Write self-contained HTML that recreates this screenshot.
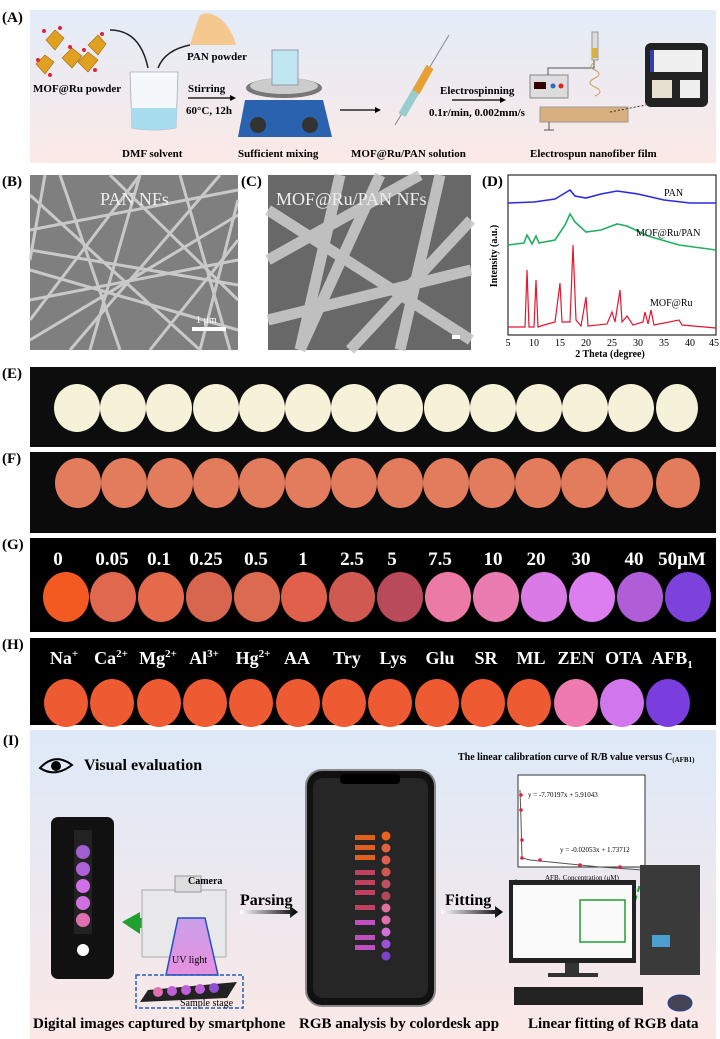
<!DOCTYPE html>
<html><head><meta charset="utf-8"><style>
html,body{margin:0;padding:0;background:#fff;}
body{width:720px;height:1039px;overflow:hidden;position:relative;font-family:"Liberation Serif",serif;}
svg{position:absolute;left:0;top:0;}
.b{font-weight:bold;}
</style></head><body>
<svg width="720" height="1039" viewBox="0 0 720 1039" xmlns="http://www.w3.org/2000/svg" font-family="Liberation Serif, serif" font-weight="bold">
<defs>
<linearGradient id="ga" x1="0" y1="0" x2="0" y2="1"><stop offset="0" stop-color="#e3ecf8"/><stop offset="1" stop-color="#fbe9e6"/></linearGradient>
<linearGradient id="gi" x1="0" y1="0" x2="0" y2="1"><stop offset="0" stop-color="#dde9f8"/><stop offset="1" stop-color="#fbe8e6"/></linearGradient>
<linearGradient id="arr" x1="0" y1="0" x2="1" y2="0"><stop offset="0" stop-color="#fff"/><stop offset="1" stop-color="#000"/></linearGradient>
<linearGradient id="uv" x1="0" y1="0" x2="0" y2="1"><stop offset="0" stop-color="#c9a0e8"/><stop offset="1" stop-color="#e890e0"/></linearGradient>
</defs>

<!-- Panel A -->
<text x="2" y="22" font-size="15">(A)</text>
<rect x="30" y="10" width="686" height="153" fill="url(#ga)"/>
<g fill="#e0a020" stroke="#a06a10" stroke-width="0.6">
<polygon points="55,30 64,38 55,50 46,40"/><polygon points="98,35 106,44 98,55 88,45"/>
<polygon points="72,48 82,56 72,68 62,58"/><polygon points="88,52 98,60 88,72 78,62"/>
<polygon points="45,55 54,62 45,74 36,64"/>
</g>
<g fill="#e02040"><circle cx="44" cy="31" r="2"/><circle cx="60" cy="28" r="2"/><circle cx="102" cy="34" r="2"/><circle cx="70" cy="47" r="2"/><circle cx="38" cy="60" r="2"/><circle cx="50" cy="75" r="2"/><circle cx="95" cy="70" r="2"/><circle cx="84" cy="50" r="2"/></g>
<path d="M200,15 Q210,10 222,20 Q232,30 236,45 L190,45 Q195,28 200,15Z" fill="#f5c890"/>
<path d="M110,30 Q140,30 148,68" fill="none" stroke="#222" stroke-width="1.5"/>
<path d="M190,45 Q165,50 158,68" fill="none" stroke="#222" stroke-width="1.5"/>
<text x="187" y="60" font-size="11">PAN powder</text>
<text x="33" y="92" font-size="11">MOF@Ru powder</text>
<path d="M130,72 L178,72 L176,128 Q154,132 132,128Z" fill="#f4f8fb" stroke="#aab" stroke-width="0.8"/>
<path d="M131,108 L177,108 L176,128 Q154,132 132,128Z" fill="#a8dcef"/>
<text x="188" y="92" font-size="11">Stirring</text>
<line x1="188" y1="98" x2="230" y2="98" stroke="#000" stroke-width="1.3"/><polygon points="230,95 236,98 230,101"/>
<text x="186" y="114" font-size="11">60°C, 12h</text>
<ellipse cx="284" cy="88" rx="38" ry="10" fill="#777"/><ellipse cx="284" cy="86" rx="34" ry="8" fill="#ccc"/>
<rect x="272" y="50" width="26" height="35" fill="#bfe6f2" stroke="#889" stroke-width="0.8"/>
<path d="M245,100 L323,100 L332,137 L238,137Z" fill="#2a62b0"/>
<circle cx="258" cy="125" r="8" fill="#333"/><circle cx="310" cy="125" r="8" fill="#333"/>
<text x="122" y="157" font-size="11">DMF solvent</text>
<text x="238" y="157" font-size="11">Sufficient mixing</text>
<line x1="340" y1="110" x2="375" y2="110" stroke="#000" stroke-width="1.3"/><polygon points="375,107 381,110 375,113"/>
<line x1="395" y1="125" x2="449" y2="35" stroke="#889" stroke-width="1"/>
<line x1="402" y1="115" x2="430" y2="67" stroke="#9cc" stroke-width="8"/>
<line x1="416" y1="92" x2="430" y2="67" stroke="#e8a030" stroke-width="8"/>
<text x="351" y="157" font-size="11">MOF@Ru/PAN solution</text>
<text x="440" y="94" font-size="11">Electrospinning</text>
<line x1="452" y1="100" x2="500" y2="100" stroke="#000" stroke-width="1.3"/><polygon points="500,97 506,100 500,103"/>
<text x="429" y="116" font-size="11">0.1r/min, 0.002mm/s</text>
<rect x="530" y="75" width="38" height="23" fill="#ddd" stroke="#888"/><rect x="534" y="82" width="12" height="7" fill="#300"/>
<circle cx="553" cy="86" r="2.5" fill="#36c"/><circle cx="561" cy="86" r="2.5" fill="#d22"/>
<path d="M548,75 L548,68 L594,68 L594,60" fill="none" stroke="#555"/>
<rect x="592" y="32" width="6" height="28" fill="#ddd" stroke="#999"/><rect x="592" y="48" width="6" height="10" fill="#d8b040"/>
<path d="M595,62 q-8,5 0,8 q8,4 0,8 q-10,5 0,9 q10,5 0,9" fill="none" stroke="#c8a060" stroke-width="1"/>
<rect x="540" y="107" width="88" height="15" fill="#d8b080" stroke="#999"/>
<line x1="549" y1="122" x2="549" y2="130" stroke="#555"/><line x1="544" y1="130" x2="554" y2="130" stroke="#555"/>
<line x1="610" y1="112" x2="646" y2="105" stroke="#333" stroke-dasharray="2,2"/>
<rect x="645" y="43" width="63" height="64" rx="6" fill="#222"/>
<rect x="652" y="50" width="50" height="22" fill="#f0f0f0"/><rect x="650" y="50" width="4" height="22" fill="#3040b0"/>
<rect x="652" y="80" width="20" height="18" fill="#e8e0d0"/><rect x="680" y="80" width="20" height="18" fill="#eee"/>
<text x="530" y="157" font-size="11">Electrospun nanofiber film</text>

<!-- Panel B -->
<text x="2" y="186" font-size="15">(B)</text>
<rect x="30" y="175" width="208" height="175" fill="#7f7f7f"/>
<g stroke="#d6d6d6" stroke-width="3" opacity="0.85">
<line x1="30" y1="230" x2="238" y2="190"/><line x1="30" y1="300" x2="238" y2="260"/><line x1="60" y1="175" x2="120" y2="350"/>
<line x1="140" y1="175" x2="90" y2="350"/><line x1="30" y1="340" x2="238" y2="215"/><line x1="180" y1="175" x2="230" y2="350"/>
<line x1="30" y1="195" x2="200" y2="350"/><line x1="238" y1="300" x2="110" y2="175"/><line x1="30" y1="270" x2="238" y2="330"/>
<line x1="70" y1="350" x2="220" y2="175"/><line x1="30" y1="320" x2="140" y2="175"/><line x1="150" y1="350" x2="238" y2="240"/>
<line x1="30" y1="250" x2="238" y2="285"/><line x1="45" y1="175" x2="30" y2="260"/><line x1="200" y1="350" x2="238" y2="200"/>
</g>
<text x="100" y="205" font-size="18" fill="#eee" font-weight="normal">PAN NFs</text>
<rect x="192" y="327" width="34" height="4" fill="#fff"/><text x="196" y="323" font-size="10" fill="#fff" font-weight="normal">1 μm</text>

<!-- Panel C -->
<text x="241" y="186" font-size="15">(C)</text>
<rect x="268" y="175" width="203" height="175" fill="#686868"/>
<g stroke="#c9c9c9" stroke-width="11" opacity="0.9">
<line x1="268" y1="320" x2="471" y2="270"/><line x1="268" y1="210" x2="471" y2="340"/><line x1="300" y1="350" x2="380" y2="175"/>
<line x1="400" y1="350" x2="440" y2="175"/><line x1="340" y1="175" x2="300" y2="350"/><line x1="268" y1="260" x2="420" y2="175"/>
<line x1="471" y1="220" x2="350" y2="350"/>
</g>
<text x="276" y="205" font-size="18" fill="#eee" font-weight="normal">MOF@Ru/PAN NFs</text>
<rect x="452" y="335" width="8" height="4" fill="#fff"/>

<!-- Panel D -->
<text x="482" y="186" font-size="15">(D)</text>
<rect x="508" y="175" width="208" height="160" fill="#fff" stroke="#000" stroke-width="1"/>
<polyline fill="none" stroke="#2a2ae0" stroke-width="1.6" points="508,203 534,202 555,199 565,193 570,190 575,196 586,198 601,194 617,191 638,194 664,200 690,203 716,203"/>
<polyline fill="none" stroke="#20b060" stroke-width="1.6" points="508,245 524,243 527,235 532,244 536,236 539,243 555,240 565,225 570,214 575,222 586,232 601,230 617,224 627,226 648,236 679,245 716,250"/>
<polyline fill="none" stroke="#e01830" stroke-width="1.2" points="508,327 525,327 527,270 529,327 534,327 536,280 538,327 544,325 555,322 560,283 562,322 570,322 573,245 576,320 581,326 586,297 588,326 607,324 612,312 615,322 620,290 622,322 627,316 633,325 643,322 645,312 648,324 651,310 654,325 679,320 682,325 716,328"/>
<text x="664" y="196" font-size="10" font-weight="normal">PAN</text>
<text x="636" y="236" font-size="10" font-weight="normal">MOF@Ru/PAN</text>
<text x="650" y="306" font-size="10" font-weight="normal">MOF@Ru</text>
<text transform="translate(497,256) rotate(-90)" text-anchor="middle" font-size="10">Intensity (a.u.)</text>
<g font-size="10" font-weight="normal" text-anchor="middle">
<text x="508" y="346">5</text><text x="534" y="346">10</text><text x="560" y="346">15</text><text x="586" y="346">20</text><text x="612" y="346">25</text><text x="638" y="346">30</text><text x="664" y="346">35</text><text x="690" y="346">40</text><text x="714" y="346">45</text>
</g>
<text x="610" y="357" font-size="10" text-anchor="middle">2 Theta (degree)</text>

<!-- Panel E -->
<text x="2" y="378" font-size="15">(E)</text>
<rect x="30" y="367" width="686" height="80" fill="#0d0d0d"/>
<g fill="#f6f2da">
<ellipse cx="77" cy="408" rx="23" ry="24"/><ellipse cx="123" cy="408" rx="23" ry="24"/><ellipse cx="169" cy="408" rx="23" ry="24"/><ellipse cx="216" cy="408" rx="23" ry="24"/><ellipse cx="262" cy="408" rx="23" ry="24"/><ellipse cx="308" cy="408" rx="23" ry="24"/><ellipse cx="354" cy="408" rx="23" ry="24"/><ellipse cx="400" cy="408" rx="23" ry="24"/><ellipse cx="447" cy="408" rx="23" ry="24"/><ellipse cx="493" cy="408" rx="23" ry="24"/><ellipse cx="539" cy="408" rx="23" ry="24"/><ellipse cx="585" cy="408" rx="23" ry="24"/><ellipse cx="631" cy="408" rx="23" ry="24"/><ellipse cx="677" cy="408" rx="21" ry="24"/>
</g>

<!-- Panel F -->
<text x="2" y="463" font-size="15">(F)</text>
<rect x="30" y="452" width="686" height="81" fill="#0b0b0b"/>
<g fill="#e27c5c">
<ellipse cx="78" cy="483" rx="23" ry="25"/><ellipse cx="124" cy="483" rx="23" ry="25"/><ellipse cx="170" cy="483" rx="23" ry="25"/><ellipse cx="216" cy="483" rx="23" ry="25"/><ellipse cx="262" cy="483" rx="23" ry="25"/><ellipse cx="308" cy="483" rx="23" ry="25"/><ellipse cx="354" cy="483" rx="23" ry="25"/><ellipse cx="400" cy="483" rx="23" ry="25"/><ellipse cx="446" cy="483" rx="23" ry="25"/><ellipse cx="492" cy="483" rx="23" ry="25"/><ellipse cx="538" cy="483" rx="23" ry="25"/><ellipse cx="584" cy="483" rx="23" ry="25"/><ellipse cx="630" cy="483" rx="23" ry="25"/><ellipse cx="678" cy="483" rx="22" ry="25"/>
</g>

<!-- Panel G -->
<text x="2" y="549" font-size="15">(G)</text>
<rect x="30" y="538" width="686" height="94" fill="#000"/>
<g fill="#fff" font-size="19" text-anchor="middle">
<text x="58" y="565">0</text><text x="112" y="565">0.05</text><text x="159" y="565">0.1</text><text x="206" y="565">0.25</text><text x="256" y="565">0.5</text><text x="303" y="565">1</text><text x="352" y="565">2.5</text><text x="392" y="565">5</text><text x="440" y="565">7.5</text><text x="493" y="565">10</text><text x="536" y="565">20</text><text x="581" y="565">30</text><text x="634" y="565">40</text><text x="682" y="565">50μM</text>
</g>
<ellipse cx="66" cy="597" rx="23" ry="25" fill="#f25a22"/>
<ellipse cx="113" cy="597" rx="23" ry="25" fill="#e0684e"/>
<ellipse cx="161" cy="597" rx="23" ry="25" fill="#e56a4c"/>
<ellipse cx="209" cy="597" rx="23" ry="25" fill="#d8664e"/>
<ellipse cx="257" cy="597" rx="23" ry="25" fill="#dc6a50"/>
<ellipse cx="304" cy="597" rx="23" ry="25" fill="#e0604c"/>
<ellipse cx="352" cy="597" rx="23" ry="25" fill="#d05a52"/>
<ellipse cx="400" cy="597" rx="23" ry="25" fill="#b84a5a"/>
<ellipse cx="448" cy="597" rx="23" ry="25" fill="#ec7aa6"/>
<ellipse cx="496" cy="597" rx="23" ry="25" fill="#ea7cb2"/>
<ellipse cx="544" cy="597" rx="23" ry="25" fill="#da7ae6"/>
<ellipse cx="592" cy="597" rx="23" ry="25" fill="#dc7ef0"/>
<ellipse cx="640" cy="597" rx="23" ry="25" fill="#b05ed8"/>
<ellipse cx="688" cy="597" rx="23" ry="25" fill="#7e42dc"/>

<!-- Panel H -->
<text x="2" y="649" font-size="15">(H)</text>
<rect x="30" y="638" width="686" height="87" fill="#000"/>
<g fill="#fff" font-size="18" text-anchor="middle">
<text x="64" y="664">Na<tspan font-size="11" dy="-7">+</tspan></text>
<text x="111" y="664">Ca<tspan font-size="11" dy="-7">2+</tspan></text>
<text x="158" y="664">Mg<tspan font-size="11" dy="-7">2+</tspan></text>
<text x="204" y="664">Al<tspan font-size="11" dy="-7">3+</tspan></text>
<text x="253" y="664">Hg<tspan font-size="11" dy="-7">2+</tspan></text>
<text x="297" y="664">AA</text><text x="347" y="664">Try</text><text x="393" y="664">Lys</text><text x="440" y="664">Glu</text><text x="486" y="664">SR</text><text x="531" y="664">ML</text><text x="576" y="664">ZEN</text><text x="624" y="664">OTA</text>
<text x="672" y="664">AFB<tspan font-size="11" dy="4">1</tspan></text>
</g>
<g fill="#ee5a32">
<ellipse cx="66" cy="703" rx="22" ry="24"/><ellipse cx="112" cy="703" rx="22" ry="24"/><ellipse cx="159" cy="703" rx="22" ry="24"/><ellipse cx="205" cy="703" rx="22" ry="24"/><ellipse cx="251" cy="703" rx="22" ry="24"/><ellipse cx="298" cy="703" rx="22" ry="24"/><ellipse cx="344" cy="703" rx="22" ry="24"/><ellipse cx="390" cy="703" rx="22" ry="24"/><ellipse cx="437" cy="703" rx="22" ry="24"/><ellipse cx="483" cy="703" rx="22" ry="24"/><ellipse cx="529" cy="703" rx="22" ry="24"/>
</g>
<ellipse cx="576" cy="703" rx="22" ry="24" fill="#ee7ab0"/>
<ellipse cx="622" cy="703" rx="22" ry="24" fill="#d276ee"/>
<ellipse cx="668" cy="703" rx="22" ry="24" fill="#7a3ede"/>

<!-- Panel I -->
<text x="3" y="745" font-size="15">(I)</text>
<rect x="30" y="730" width="686" height="309" fill="url(#gi)"/>
<path d="M40,768 Q55,752 72,765 Q55,778 40,768Z" fill="none" stroke="#000" stroke-width="2"/><circle cx="56" cy="766" r="5"/>
<text x="84" y="770" font-size="16">Visual evaluation</text>
<rect x="51" y="817" width="63" height="162" rx="7" fill="#111"/>
<rect x="74" y="830" width="18" height="104" fill="#222"/>
<circle cx="83" cy="852" r="7" fill="#a060d0"/><circle cx="83" cy="869" r="7" fill="#b060d8"/><circle cx="83" cy="886" r="7" fill="#d070e8"/><circle cx="83" cy="903" r="7" fill="#d070e0"/><circle cx="83" cy="920" r="7" fill="#e070b0"/>
<circle cx="83" cy="950" r="6" fill="#fff"/>
<polygon points="122,922 140,912 140,918 160,918 160,928 140,928 140,934" fill="#20a030"/><rect x="163" y="917" width="6" height="12" fill="#20a030"/>
<rect x="142" y="890" width="84" height="67" fill="#e8e8ea" stroke="#aaa"/>
<rect x="175" y="876" width="26" height="16" fill="#ddd" stroke="#999"/>
<text x="188" y="884" font-size="10">Camera</text>
<polygon points="178,918 205,918 218,975 166,975" fill="url(#uv)" stroke="#2050c0" stroke-width="1.5"/>
<text x="172" y="963" font-size="10" font-weight="normal">UV light</text>
<rect x="136" y="975" width="107" height="33" fill="none" stroke="#2060c0" stroke-width="1.5" stroke-dasharray="4,2"/>
<polygon points="148,990 237,982 227,998 140,1002" fill="#222"/>
<g fill="#c060d8"><circle cx="158" cy="992" r="5" fill="#e070b0"/><circle cx="172" cy="991" r="5"/><circle cx="186" cy="990" r="5"/><circle cx="200" cy="989" r="5"/><circle cx="214" cy="988" r="5" fill="#9050d0"/></g>
<text x="180" y="1006" font-size="10" font-weight="normal">Sample stage</text>
<text x="240" y="905" font-size="16">Parsing</text>
<polygon points="240,910 290,910 290,906 298,912 290,918 290,914 240,914" fill="url(#arr)"/>
<rect x="306" y="770" width="129" height="236" rx="16" fill="#111" stroke="#888" stroke-width="2"/>
<rect x="313" y="778" width="115" height="220" rx="10" fill="#262626"/>
<rect x="340" y="774" width="60" height="10" rx="4" fill="#000"/>
<g fill="#e06020"><rect x="355" y="835" width="20" height="5"/><rect x="355" y="845" width="20" height="5"/><rect x="355" y="855" width="20" height="5"/></g>
<g fill="#c04060"><rect x="355" y="870" width="20" height="5"/><rect x="355" y="880" width="20" height="5"/><rect x="355" y="890" width="20" height="5"/><rect x="355" y="905" width="20" height="5"/></g>
<g fill="#c050c0"><rect x="355" y="920" width="20" height="5"/><rect x="355" y="935" width="20" height="5"/><rect x="355" y="945" width="20" height="5"/></g>
<g><circle cx="386" cy="836" r="4.5" fill="#f06020"/><circle cx="386" cy="848" r="4.5" fill="#e06040"/><circle cx="386" cy="860" r="4.5" fill="#e06050"/><circle cx="386" cy="872" r="4.5" fill="#d05850"/><circle cx="386" cy="884" r="4.5" fill="#c05060"/><circle cx="386" cy="896" r="4.5" fill="#b04858"/><circle cx="386" cy="908" r="4.5" fill="#e070a0"/><circle cx="386" cy="920" r="4.5" fill="#e070b0"/><circle cx="386" cy="932" r="4.5" fill="#d070d8"/><circle cx="386" cy="944" r="4.5" fill="#a050d8"/><circle cx="386" cy="956" r="4.5" fill="#8040d0"/></g>
<text x="445" y="905" font-size="16">Fitting</text>
<polygon points="441,910 495,910 495,906 503,912 495,918 495,914 441,914" fill="url(#arr)"/>
<text x="458" y="760" font-size="10">The linear calibration curve of R/B value versus C<tspan font-size="7" dy="2">(AFB1)</tspan></text>
<rect x="518" y="775" width="127" height="92" fill="#fff" stroke="#333"/>
<polyline points="520,790 521,820 522,858 530,860 560,863 600,867 643,870" fill="none" stroke="#555"/>
<g fill="#e02040"><circle cx="521" cy="795" r="1.8"/><circle cx="521" cy="810" r="1.8"/><circle cx="522" cy="840" r="1.8"/><circle cx="522" cy="858" r="1.8"/><circle cx="540" cy="860" r="1.8"/><circle cx="580" cy="865" r="1.8"/><circle cx="620" cy="867" r="1.8"/><circle cx="643" cy="870" r="1.8"/></g>
<text x="528" y="797" font-size="7" font-weight="normal">y = -7.70197x + 5.91043</text>
<text x="560" y="852" font-size="7" font-weight="normal">y = -0.02053x + 1.73712</text>
<text x="545" y="880" font-size="7" font-weight="normal">AFB₁ Concentration (μM)</text>
<line x1="558" y1="930" x2="514" y2="878" stroke="#20a030" stroke-width="2" stroke-dasharray="6,4"/>
<line x1="626" y1="930" x2="642" y2="878" stroke="#20a030" stroke-width="2" stroke-dasharray="6,4"/>
<rect x="509" y="880" width="127" height="83" fill="#222"/><rect x="513" y="885" width="119" height="73" fill="#fafafa"/>
<rect x="580" y="900" width="45" height="42" fill="none" stroke="#20a030" stroke-width="1.5"/>
<rect x="565" y="963" width="14" height="12" fill="#333"/><rect x="548" y="973" width="50" height="4" fill="#333"/>
<rect x="640" y="865" width="60" height="110" fill="#3a3a3a"/><rect x="652" y="935" width="18" height="12" fill="#4aa0d0"/>
<rect x="514" y="987" width="129" height="18" fill="#222"/>
<ellipse cx="680" cy="1003" rx="12" ry="8" fill="#445" stroke="#2040a0"/>
<text x="33" y="1028" font-size="15">Digital images captured by smartphone</text>
<text x="299" y="1028" font-size="15">RGB analysis by colordesk app</text>
<text x="528" y="1028" font-size="15">Linear fitting of RGB data</text>
</svg>
</body></html>
